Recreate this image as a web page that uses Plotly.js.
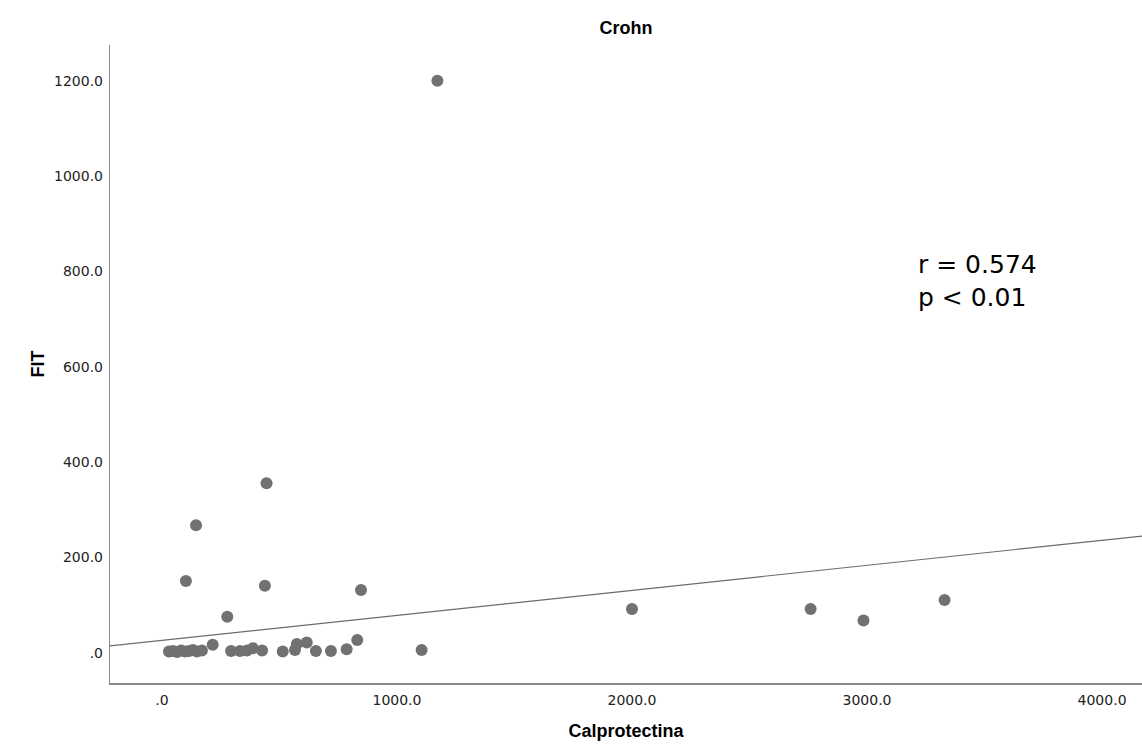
<!DOCTYPE html>
<html>
<head>
<meta charset="utf-8">
<script src="https://cdn.plot.ly/plotly-3.0.1.min.js"></script>
<style>html,body{margin:0;padding:0;background:#fff;}#chart{width:1142px;height:750px;}</style>
</head>
<body>
<div id="chart"></div>
<script>
// Data
var calprotectina = [30, 47, 64, 81, 98, 115, 132, 149, 170, 216,
                     294, 332, 362, 387, 426,
                     514, 566, 574, 616, 655, 719, 786, 831, 1105,
                     1172, 445, 145, 102, 438, 278, 847,
                     2000, 2760, 2985, 3330];
var fit = [3, 4, 2, 5, 3, 4, 6, 3, 5, 17,
           4, 4, 5, 10, 5,
           3, 6, 19, 22, 4, 4, 8, 27, 6,
           1200, 356, 268, 151, 141, 76, 132,
           92, 92, 68, 111];
// Fit line
var fitIntercept = 26.3;
var fitSlope = 0.0525;
var xTickVals = [0, 1000, 2000, 3000, 4000];
var xTickText = [".0", "1000.0", "2000.0", "3000.0", "4000.0"];
var yTickVals = [0, 200, 400, 600, 800, 1000, 1200];
var yTickText = [".0", "200.0", "400.0", "600.0", "800.0", "1000.0", "1200.0"];
var xRange = [-221, 4170];
var yRange = [-63, 1275];

var lineX = [xRange[0], xRange[1]];
var lineY = lineX.map(function (v) { return fitIntercept + fitSlope * v; });

var traces = [
  {
    x: lineX, y: lineY, type: 'scatter', mode: 'lines',
    line: {color: '#6b6b6b', width: 1.2}, hoverinfo: 'skip', showlegend: false
  },
  {
    x: calprotectina, y: fit, type: 'scatter', mode: 'markers',
    marker: {color: '#717171', size: 12, line: {width: 0}}, showlegend: false
  }
];

var tickFont = {family: 'DejaVu Sans', size: 14, color: '#222'};
var titleFont = {family: 'Liberation Sans', size: 18, color: '#000', weight: 'bold'};

var layout = {
  width: 1142, height: 750,
  margin: {l: 110, r: 0, t: 45, b: 67, pad: 0},
  paper_bgcolor: '#fff', plot_bgcolor: '#fff',
  showlegend: false,
  title: {
    text: '<b>Crohn</b>', font: titleFont,
    xref: 'paper', x: 0.5, xanchor: 'center',
    yref: 'container', y: 1 - 28 / 750, yanchor: 'middle'
  },
  xaxis: {
    range: xRange, showgrid: false, zeroline: false,
    showline: true, linecolor: '#8a8a8a', linewidth: 1.5,
    ticks: '', tickvals: xTickVals, ticktext: xTickText,
    tickfont: tickFont, ticklabelstandoff: 4,
    title: {text: '<b>Calprotectina</b>', font: titleFont, standoff: 17}
  },
  yaxis: {
    range: yRange, showgrid: false, zeroline: false,
    showline: true, linecolor: '#8a8a8a', linewidth: 1.2,
    ticks: '', tickvals: yTickVals, ticktext: yTickText,
    tickfont: tickFont, ticklabelstandoff: 3,
    title: {text: '<b>FIT</b>', font: titleFont, standoff: 4}
  },
  annotations: [{
    xref: 'paper', yref: 'paper',
    x: (916 - 110) / 1032, y: (683 - 248) / 638,
    xanchor: 'left', yanchor: 'top', align: 'left',
    showarrow: false,
    text: 'r = 0.574<br>p &lt; 0.01',
    font: {family: 'DejaVu Sans', size: 25, color: '#000'}
  }]
};

Plotly.newPlot('chart', traces, layout, {displayModeBar: false, staticPlot: true});
</script>
</body>
</html>
